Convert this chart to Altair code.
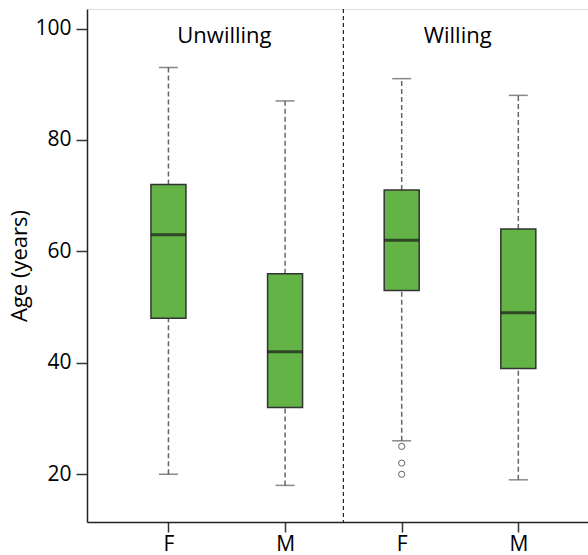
import altair as alt
import pandas as pd

# Data
groups = ["Unwilling", "Unwilling", "Willing", "Willing"]
sexes = ["F", "M", "F", "M"]
positions = [1, 2, 3, 4]
whisker_low = [20, 18, 26, 19]
q1 = [48, 32, 53, 39]
median = [63, 42, 62, 49]
q3 = [72, 56, 71, 64]
whisker_high = [93, 87, 91, 88]

outlier_pos = [3, 3, 3]
outlier_vals = [25, 22, 20]

group_labels = ["Unwilling", "Willing"]
group_label_pos = [1.48, 3.48]
group_label_y = [97.4, 97.4]
separator_pos = [2.5]

tick_labels = ["F", "M", "F", "M"]

FONT = "Open Sans"

box_df = pd.DataFrame({
    "group": groups, "sex": sexes, "pos": positions,
    "lo": whisker_low, "q1": q1, "med": median, "q3": q3, "hi": whisker_high,
})
out_df = pd.DataFrame({"pos": outlier_pos, "val": outlier_vals})
lab_df = pd.DataFrame({"label": group_labels, "pos": group_label_pos, "y": group_label_y})
sep_df = pd.DataFrame({"pos": separator_pos})

label_expr = " : ".join(
    [f"datum.value == {p} ? '{t}'" for p, t in zip(positions, tick_labels)]
) + " : ''"

xscale = alt.Scale(domain=[0.3445, 4.5546], zero=False, nice=False)
yscale = alt.Scale(domain=[11.43, 103.5], zero=False, nice=False)

x_axis = alt.Axis(
    values=positions, labelExpr=label_expr, title=None, grid=False,
    tickSize=10, tickColor="#333333", tickWidth=1.5,
    domainColor="#222222", domainWidth=1.5,
    labelFont=FONT, labelFontSize=21, labelColor="#000000", labelPadding=1,
)
y_axis = alt.Axis(
    values=[20, 40, 60, 80, 100], title="Age (years)", grid=False,
    tickSize=11, tickColor="#333333", tickWidth=1.5,
    domainColor="#222222", domainWidth=1.5,
    labelFont=FONT, labelFontSize=21, labelColor="#000000", labelPadding=5,
    titleFont=FONT, titleFontSize=22, titleFontWeight="normal", titleColor="#000000",
    titlePadding=3,
)

base = alt.Chart(box_df)

whisk_low = base.mark_rule(color="#666666", strokeWidth=1.5, strokeDash=[5, 3]).encode(
    x=alt.X("pos:Q", scale=xscale, axis=x_axis),
    y=alt.Y("lo:Q", scale=yscale, axis=y_axis),
    y2="q1:Q",
)
whisk_high = base.mark_rule(color="#666666", strokeWidth=1.5, strokeDash=[5, 3]).encode(
    x="pos:Q", y="q3:Q", y2="hi:Q",
)
cap_low = base.mark_tick(orient="horizontal", size=19, thickness=1.5, color="#555555").encode(
    x="pos:Q", y="lo:Q",
)
cap_high = base.mark_tick(orient="horizontal", size=19, thickness=1.5, color="#555555").encode(
    x="pos:Q", y="hi:Q",
)
boxes = base.mark_bar(size=35, color="#63b346", stroke="#333333", strokeWidth=1.5).encode(
    x="pos:Q", y="q1:Q", y2="q3:Q",
)
medians = base.mark_tick(orient="horizontal", size=35, thickness=3, color="#1a1a1a").encode(
    x="pos:Q", y="med:Q",
)
outliers = alt.Chart(out_df).mark_point(
    shape="circle", filled=False, size=38, color="#222222", strokeWidth=1
).encode(x="pos:Q", y="val:Q")

separator = alt.Chart(sep_df).mark_rule(
    color="#222222", strokeWidth=1.2, strokeDash=[4, 3]
).encode(x="pos:Q")

labels = alt.Chart(lab_df).mark_text(
    font=FONT, fontSize=22, color="#000000", align="center", baseline="alphabetic"
).encode(x="pos:Q", y="y:Q", text="label:N")

chart = alt.layer(
    separator, whisk_low, whisk_high, cap_low, cap_high, boxes, medians, outliers, labels
).properties(
    width=501, height=513,
    autosize=alt.AutoSizeParams(type="none"),
    padding={"left": 87, "top": 9, "right": 0, "bottom": 33},
).configure_view(stroke=None).configure(background="white")

chart.save("out.html", embed_options={"renderer": "svg", "actions": False})
